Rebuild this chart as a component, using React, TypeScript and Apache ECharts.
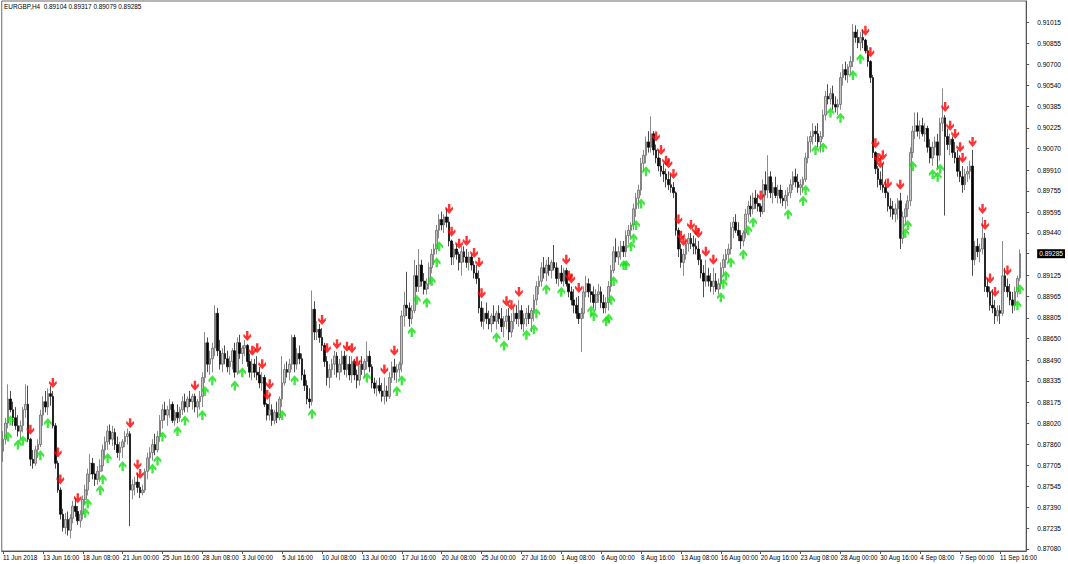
import React, { useEffect, useRef } from "react";
import * as echarts from "echarts";

// ---- header ----
const symbolTitle = "EURGBP,H4  0.89104 0.89317 0.89079 0.89285";
const currentPrice = 0.89285;

// ---- x tick labels (one every 16 H4 bars) ----
const xTickLabels = [
  "11 Jun 2018", "13 Jun 16:00", "18 Jun 08:00", "21 Jun 00:00", "25 Jun 16:00", "28 Jun 08:00",
  "3 Jul 00:00", "5 Jul 16:00", "10 Jul 08:00", "13 Jul 00:00", "17 Jul 16:00", "20 Jul 08:00",
  "25 Jul 00:00", "27 Jul 16:00", "1 Aug 08:00", "6 Aug 00:00", "8 Aug 16:00", "13 Aug 08:00",
  "16 Aug 00:00", "20 Aug 16:00", "23 Aug 08:00", "28 Aug 00:00", "30 Aug 16:00", "4 Sep 08:00",
  "7 Sep 00:00", "11 Sep 16:00",
];
const barsPerLabel = 16;

// ---- y tick labels ----
const yTicks = [
  0.8708, 0.87235, 0.8739, 0.87545, 0.87705, 0.8786, 0.8802, 0.88175, 0.88335, 0.8849,
  0.8865, 0.88805, 0.88965, 0.89125, 0.89285, 0.8944, 0.89595, 0.89755, 0.8991, 0.9007,
  0.90225, 0.90385, 0.9054, 0.907, 0.90855, 0.91015,
];
const yMin = 0.87065;
const yMax = 0.91172;

// ---- OHLC bars [open, high, low, close], one row per trading day ----
const junBars = [
  [0.8781,0.8796,0.8773,0.8790],[0.8790,0.8806,0.8786,0.8802],[0.8802,0.8831,0.8798,0.8820],[0.8820,0.8826,0.8810,0.8812],[0.8812,0.8818,0.8800,0.8806],[0.8806,0.8814,0.8797,0.8800],
  [0.8800,0.8808,0.8792,0.8796],[0.8796,0.8804,0.8790,0.8800],[0.8800,0.8814,0.8795,0.8812],[0.8812,0.8831,0.8806,0.8816],[0.8816,0.8830,0.8788,0.8790],[0.8790,0.8791,0.8770,0.8775],
  [0.8775,0.8782,0.8768,0.8772],[0.8772,0.8785,0.8770,0.8782],[0.8782,0.8790,0.8776,0.8786],[0.8786,0.8812,0.8784,0.8808],[0.8808,0.8822,0.8800,0.8818],[0.8818,0.8826,0.8810,0.8814],
  [0.8814,0.8828,0.8808,0.8824],[0.8824,0.8830,0.8815,0.8822],[0.8822,0.8826,0.8798,0.8800],[0.8800,0.8802,0.8768,0.8772],[0.8772,0.8774,0.8750,0.8752],[0.8752,0.8754,0.8730,0.8734],
  [0.8734,0.8738,0.8721,0.8724],[0.8724,0.8735,0.8719,0.8730],[0.8730,0.8736,0.8718,0.8722],[0.8722,0.8734,0.8716,0.8731],[0.8731,0.8744,0.8727,0.8740],[0.8740,0.8746,0.8732,0.8736],
  [0.8736,0.8740,0.8726,0.8729],[0.8729,0.8737,0.8724,0.8734],[0.8734,0.8748,0.8730,0.8745],[0.8745,0.8756,0.8741,0.8752],[0.8752,0.8768,0.8748,0.8764],[0.8764,0.8779,0.8758,0.8772],
  [0.8772,0.8776,0.8760,0.8764],[0.8764,0.8772,0.8755,0.8760],[0.8760,0.8770,0.8756,0.8766],[0.8766,0.8775,0.8758,0.8770],[0.8770,0.8786,0.8766,0.8782],[0.8782,0.8792,0.8776,0.8788],
  [0.8788,0.8800,0.8782,0.8796],[0.8796,0.8801,0.8786,0.8790],[0.8790,0.8800,0.8785,0.8795],[0.8795,0.8798,0.8782,0.8786],[0.8786,0.8792,0.8776,0.8780],[0.8780,0.8788,0.8774,0.8784],
  [0.8784,0.8790,0.8776,0.8788],[0.8788,0.8796,0.8784,0.8792],[0.8792,0.8798,0.8786,0.8794],[0.8794,0.8796,0.8725,0.8752],[0.8752,0.8760,0.8745,0.8756],[0.8756,0.8762,0.8748,0.8758],
  [0.8758,0.8765,0.8750,0.8754],[0.8754,0.8758,0.8746,0.8750],[0.8750,0.8756,0.8748,0.8752],[0.8752,0.8768,0.8750,0.8766],[0.8766,0.8780,0.8760,0.8776],[0.8776,0.8784,0.8768,0.8780],
  [0.8780,0.8790,0.8774,0.8786],[0.8786,0.8794,0.8778,0.8782],[0.8782,0.8796,0.8780,0.8792],[0.8792,0.8808,0.8788,0.8804],[0.8804,0.8816,0.8798,0.8812],[0.8812,0.8818,0.8804,0.8808],
  [0.8808,0.8815,0.8800,0.8812],[0.8812,0.8820,0.8806,0.8816],[0.8816,0.8818,0.8802,0.8804],[0.8804,0.8812,0.8800,0.8810],[0.8810,0.8816,0.8802,0.8806],[0.8806,0.8814,0.8803,0.8812],
  [0.8812,0.8822,0.8808,0.8818],[0.8818,0.8824,0.8810,0.8814],[0.8814,0.8822,0.8810,0.8820],[0.8820,0.8826,0.8814,0.8818],[0.8818,0.8824,0.8812,0.8822],[0.8822,0.8824,0.8810,0.8814],
  [0.8814,0.8820,0.8806,0.8818],[0.8818,0.8826,0.8812,0.8822],[0.8822,0.8840,0.8814,0.8836],[0.8836,0.8870,0.8832,0.8862],[0.8862,0.8866,0.8840,0.8846],[0.8846,0.8856,0.8838,0.8850],
  [0.8850,0.8862,0.8840,0.8858],[0.8858,0.8890,0.8852,0.8884],[0.8884,0.8888,0.8852,0.8856],[0.8856,0.8864,0.8842,0.8846],[0.8846,0.8858,0.8840,0.8854],[0.8854,0.8860,0.8846,0.8850],
];
const julBars = [
  [0.8850,0.8856,0.8840,0.8844],[0.8844,0.8852,0.8838,0.8848],[0.8848,0.8858,0.8842,0.8856],[0.8856,0.8862,0.8836,0.8840],[0.8840,0.8866,0.8838,0.8862],[0.8862,0.8868,0.8850,0.8854],
  [0.8854,0.8860,0.8846,0.8858],[0.8858,0.8864,0.8852,0.8860],[0.8860,0.8861,0.8844,0.8848],[0.8848,0.8854,0.8836,0.8840],[0.8840,0.8850,0.8834,0.8846],[0.8846,0.8850,0.8836,0.8840],
  [0.8840,0.8852,0.8834,0.8838],[0.8838,0.8844,0.8828,0.8832],[0.8832,0.8840,0.8826,0.8836],[0.8836,0.8838,0.8814,0.8816],[0.8816,0.8817,0.8804,0.8808],[0.8808,0.8825,0.8804,0.8812],
  [0.8812,0.8816,0.8800,0.8804],[0.8804,0.8812,0.8801,0.8810],[0.8810,0.8818,0.8802,0.8806],[0.8806,0.8822,0.8804,0.8820],[0.8820,0.8852,0.8814,0.8832],[0.8832,0.8846,0.8830,0.8842],
  [0.8842,0.8848,0.8836,0.8840],[0.8840,0.8850,0.8834,0.8846],[0.8846,0.8868,0.8842,0.8866],[0.8866,0.8868,0.8840,0.8846],[0.8846,0.8858,0.8842,0.8854],[0.8854,0.8860,0.8846,0.8850],
  [0.8850,0.8854,0.8834,0.8838],[0.8838,0.8842,0.8826,0.8830],[0.8830,0.8834,0.8816,0.8820],[0.8820,0.8828,0.8813,0.8818],[0.8818,0.8901,0.8815,0.8887],[0.8887,0.8893,0.8864,0.8870],
  [0.8870,0.8878,0.8864,0.8872],[0.8872,0.8876,0.8862,0.8866],[0.8866,0.8873,0.8856,0.8860],[0.8860,0.8862,0.8844,0.8848],[0.8848,0.8852,0.8830,0.8836],[0.8836,0.8846,0.8828,0.8842],
  [0.8842,0.8850,0.8836,0.8846],[0.8846,0.8856,0.8838,0.8852],[0.8852,0.8855,0.8836,0.8840],[0.8840,0.8850,0.8834,0.8846],[0.8846,0.8856,0.8840,0.8852],[0.8852,0.8856,0.8838,0.8842],
  [0.8842,0.8853,0.8836,0.8846],[0.8846,0.8852,0.8834,0.8838],[0.8838,0.8852,0.8832,0.8848],[0.8848,0.8850,0.8834,0.8838],[0.8838,0.8842,0.8828,0.8834],[0.8834,0.8848,0.8830,0.8846],
  [0.8846,0.8852,0.8838,0.8842],[0.8842,0.8850,0.8836,0.8848],[0.8848,0.8863,0.8842,0.8852],[0.8852,0.8856,0.8840,0.8844],[0.8844,0.8846,0.8828,0.8832],[0.8832,0.8836,0.8824,0.8828],
  [0.8828,0.8834,0.8822,0.8830],[0.8830,0.8836,0.8824,0.8826],[0.8826,0.8832,0.8818,0.8822],[0.8822,0.8836,0.8816,0.8826],[0.8826,0.8830,0.8818,0.8822],[0.8822,0.8840,0.8820,0.8836],
  [0.8836,0.8848,0.8832,0.8844],[0.8844,0.8850,0.8834,0.8840],[0.8840,0.8846,0.8832,0.8842],[0.8842,0.8848,0.8836,0.8846],[0.8846,0.8886,0.8840,0.8882],[0.8882,0.8900,0.8874,0.8890],
  [0.8890,0.8915,0.8882,0.8888],[0.8888,0.8892,0.8874,0.8880],[0.8880,0.8890,0.8876,0.8886],[0.8886,0.8924,0.8884,0.8912],[0.8912,0.8920,0.8900,0.8904],[0.8904,0.8932,0.8900,0.8920],
  [0.8920,0.8924,0.8904,0.8908],[0.8908,0.8914,0.8898,0.8902],[0.8902,0.8910,0.8898,0.8906],[0.8906,0.8922,0.8902,0.8918],[0.8918,0.8932,0.8914,0.8928],[0.8928,0.8936,0.8920,0.8932],
  [0.8932,0.8950,0.8928,0.8946],[0.8946,0.8958,0.8940,0.8954],[0.8954,0.8960,0.8946,0.8950],[0.8950,0.8958,0.8944,0.8956],[0.8956,0.8962,0.8948,0.8952],[0.8952,0.8956,0.8934,0.8938],
  [0.8938,0.8939,0.8920,0.8926],[0.8926,0.8936,0.8920,0.8932],[0.8932,0.8936,0.8924,0.8928],[0.8928,0.8930,0.8916,0.8922],[0.8922,0.8934,0.8912,0.8930],[0.8930,0.8934,0.8922,0.8926],
  [0.8926,0.8932,0.8918,0.8922],[0.8922,0.8930,0.8916,0.8926],[0.8926,0.8928,0.8916,0.8920],[0.8920,0.8923,0.8910,0.8914],[0.8914,0.8920,0.8906,0.8910],[0.8910,0.8916,0.8884,0.8888],
  [0.8888,0.8893,0.8874,0.8878],[0.8878,0.8888,0.8872,0.8884],[0.8884,0.8892,0.8876,0.8880],[0.8880,0.8886,0.8872,0.8876],[0.8876,0.8884,0.8870,0.8882],[0.8882,0.8890,0.8876,0.8878],
  [0.8878,0.8886,0.8872,0.8884],[0.8884,0.8890,0.8876,0.8880],[0.8880,0.8888,0.8870,0.8874],[0.8874,0.8882,0.8866,0.8878],[0.8878,0.8887,0.8872,0.8882],[0.8882,0.8888,0.8864,0.8870],
  [0.8870,0.8884,0.8866,0.8878],[0.8878,0.8888,0.8872,0.8884],[0.8884,0.8890,0.8876,0.8880],[0.8880,0.8894,0.8874,0.8886],[0.8886,0.8890,0.8872,0.8876],[0.8876,0.8884,0.8870,0.8880],
  [0.8880,0.8888,0.8874,0.8884],[0.8884,0.8890,0.8876,0.8880],[0.8880,0.8888,0.8870,0.8886],[0.8886,0.8898,0.8878,0.8894],[0.8894,0.8908,0.8890,0.8904],[0.8904,0.8912,0.8898,0.8908],
  [0.8908,0.8922,0.8904,0.8918],[0.8918,0.8926,0.8910,0.8914],[0.8914,0.8924,0.8908,0.8920],[0.8920,0.8926,0.8912,0.8916],[0.8916,0.8924,0.8910,0.8922],[0.8922,0.8935,0.8916,0.8918],
];
const augBars = [
  [0.8918,0.8922,0.8906,0.8910],[0.8910,0.8918,0.8904,0.8914],[0.8914,0.8920,0.8906,0.8908],[0.8908,0.8918,0.8904,0.8916],[0.8916,0.8918,0.8904,0.8906],[0.8906,0.8906,0.8896,0.8900],
  [0.8900,0.8904,0.8890,0.8894],[0.8894,0.8902,0.8884,0.8890],[0.8890,0.8896,0.8880,0.8884],[0.8884,0.8897,0.8876,0.8880],[0.8880,0.8888,0.8855,0.8884],[0.8884,0.8904,0.8880,0.8900],
  [0.8900,0.8912,0.8896,0.8906],[0.8906,0.8910,0.8896,0.8900],[0.8900,0.8906,0.8892,0.8898],[0.8898,0.8904,0.8888,0.8892],[0.8892,0.8902,0.8886,0.8898],[0.8898,0.8906,0.8892,0.8900],
  [0.8900,0.8904,0.8888,0.8892],[0.8892,0.8898,0.8884,0.8888],[0.8888,0.8896,0.8884,0.8892],[0.8892,0.8908,0.8886,0.8904],[0.8904,0.8920,0.8900,0.8916],[0.8916,0.8934,0.8914,0.8930],
  [0.8930,0.8940,0.8922,0.8926],[0.8926,0.8934,0.8920,0.8930],[0.8930,0.8938,0.8924,0.8934],[0.8934,0.8938,0.8926,0.8930],[0.8930,0.8946,0.8926,0.8942],[0.8942,0.8950,0.8936,0.8946],
  [0.8946,0.8952,0.8940,0.8950],[0.8950,0.8966,0.8946,0.8962],[0.8962,0.8974,0.8956,0.8970],[0.8970,0.8980,0.8962,0.8976],[0.8976,0.9000,0.8972,0.8996],[0.8996,0.9006,0.8990,0.9002],
  [0.9002,0.9016,0.8996,0.9012],[0.9012,0.9020,0.9004,0.9008],[0.9008,0.9031,0.9004,0.9018],[0.9018,0.9020,0.9002,0.9006],[0.9006,0.9010,0.8996,0.9000],[0.9000,0.9006,0.8990,0.8994],
  [0.8994,0.9000,0.8986,0.8990],[0.8990,0.8996,0.8982,0.8988],[0.8988,0.8992,0.8978,0.8984],[0.8984,0.8990,0.8976,0.8980],[0.8980,0.8988,0.8974,0.8978],[0.8978,0.8982,0.8970,0.8974],
  [0.8974,0.8975,0.8942,0.8946],[0.8946,0.8948,0.8926,0.8932],[0.8932,0.8936,0.8918,0.8922],[0.8922,0.8932,0.8912,0.8928],[0.8928,0.8940,0.8924,0.8936],[0.8936,0.8944,0.8930,0.8940],
  [0.8940,0.8944,0.8932,0.8936],[0.8936,0.8942,0.8928,0.8934],[0.8934,0.8940,0.8928,0.8932],[0.8932,0.8938,0.8920,0.8924],[0.8924,0.8928,0.8910,0.8914],[0.8914,0.8920,0.8896,0.8908],
  [0.8908,0.8924,0.8904,0.8912],[0.8912,0.8918,0.8904,0.8908],[0.8908,0.8914,0.8900,0.8904],[0.8904,0.8918,0.8898,0.8908],[0.8908,0.8914,0.8900,0.8902],[0.8902,0.8910,0.8898,0.8906],
  [0.8906,0.8922,0.8902,0.8918],[0.8918,0.8928,0.8912,0.8924],[0.8924,0.8932,0.8918,0.8928],[0.8928,0.8936,0.8922,0.8932],[0.8932,0.8952,0.8928,0.8948],[0.8948,0.8956,0.8940,0.8952],
  [0.8952,0.8958,0.8944,0.8946],[0.8946,0.8952,0.8938,0.8942],[0.8942,0.8946,0.8932,0.8938],[0.8938,0.8946,0.8934,0.8944],[0.8944,0.8962,0.8940,0.8958],[0.8958,0.8968,0.8952,0.8964],
  [0.8964,0.8972,0.8956,0.8962],[0.8962,0.8974,0.8958,0.8970],[0.8970,0.8976,0.8962,0.8966],[0.8966,0.8972,0.8960,0.8964],[0.8964,0.8966,0.8956,0.8960],[0.8960,0.8984,0.8958,0.8980],
  [0.8980,0.8990,0.8972,0.8976],[0.8976,0.9002,0.8970,0.8986],[0.8986,0.8990,0.8970,0.8974],[0.8974,0.8982,0.8966,0.8978],[0.8978,0.8986,0.8970,0.8972],[0.8972,0.8980,0.8966,0.8976],
  [0.8976,0.8980,0.8966,0.8970],[0.8970,0.8976,0.8964,0.8968],[0.8968,0.8976,0.8962,0.8972],[0.8972,0.8978,0.8964,0.8974],[0.8974,0.8984,0.8970,0.8980],[0.8980,0.8990,0.8976,0.8986],
  [0.8986,0.8992,0.8978,0.8982],[0.8982,0.8988,0.8974,0.8978],[0.8978,0.8984,0.8972,0.8980],[0.8980,0.8986,0.8974,0.8984],[0.8984,0.9004,0.8982,0.9000],[0.9000,0.9016,0.8996,0.9012],
  [0.9012,0.9020,0.9004,0.9016],[0.9016,0.9026,0.9010,0.9020],[0.9020,0.9024,0.9012,0.9018],[0.9018,0.9026,0.9008,0.9012],[0.9012,0.9020,0.9004,0.9016],[0.9016,0.9036,0.9014,0.9032],
  [0.9032,0.9050,0.9028,0.9046],[0.9046,0.9055,0.9040,0.9044],[0.9044,0.9052,0.9040,0.9048],[0.9048,0.9054,0.9036,0.9040],[0.9040,0.9046,0.9034,0.9038],[0.9038,0.9044,0.9032,0.9040],
  [0.9040,0.9064,0.9036,0.9060],[0.9060,0.9070,0.9054,0.9066],[0.9066,0.9072,0.9058,0.9062],[0.9062,0.9070,0.9056,0.9068],[0.9068,0.9076,0.9062,0.9072],[0.9072,0.9100,0.9068,0.9094],
  [0.9094,0.9099,0.9086,0.9090],[0.9090,0.9096,0.9082,0.9086],[0.9086,0.9094,0.9080,0.9090],[0.9090,0.9096,0.9082,0.9088],[0.9088,0.9089,0.9078,0.9080],[0.9080,0.9084,0.9068,0.9072],
  [0.9072,0.9073,0.9056,0.9060],[0.9060,0.9062,0.9000,0.9004],[0.9004,0.9005,0.8988,0.8992],[0.8992,0.8994,0.8978,0.8984],[0.8984,0.8990,0.8976,0.8980],[0.8980,0.8996,0.8974,0.8978],
  [0.8978,0.8984,0.8970,0.8974],[0.8974,0.8975,0.8960,0.8964],[0.8964,0.8970,0.8956,0.8962],[0.8962,0.8968,0.8954,0.8958],[0.8958,0.8966,0.8952,0.8962],[0.8962,0.8970,0.8954,0.8968],
];
const sepBars = [
  [0.8968,0.8974,0.8932,0.8940],[0.8940,0.8960,0.8936,0.8956],[0.8956,0.8966,0.8950,0.8962],[0.8962,0.8972,0.8956,0.8968],[0.8968,0.9008,0.8964,0.9004],[0.9004,0.9024,0.9000,0.9020],
  [0.9020,0.9034,0.9014,0.9024],[0.9024,0.9034,0.9016,0.9020],[0.9020,0.9028,0.9014,0.9024],[0.9024,0.9030,0.9016,0.9018],[0.9018,0.9026,0.9012,0.9022],[0.9022,0.9024,0.9004,0.9008],
  [0.9008,0.9014,0.8996,0.9000],[0.9000,0.9012,0.8994,0.9008],[0.9008,0.9016,0.9002,0.9012],[0.9012,0.9018,0.8992,0.9002],[0.9002,0.9030,0.8998,0.9026],[0.9026,0.9052,0.9020,0.9030],
  [0.9030,0.9032,0.8957,0.9016],[0.9016,0.9022,0.9006,0.9010],[0.9010,0.9018,0.9002,0.9014],[0.9014,0.9016,0.9000,0.9004],[0.9004,0.9012,0.8996,0.9000],[0.9000,0.9006,0.8986,0.8990],
  [0.8990,0.9002,0.8982,0.8986],[0.8986,0.8994,0.8974,0.8980],[0.8980,0.8992,0.8976,0.8988],[0.8988,0.8994,0.8982,0.8990],[0.8990,0.8998,0.8984,0.8994],[0.8994,0.9006,0.8912,0.8924],
  [0.8924,0.8938,0.8920,0.8934],[0.8934,0.8940,0.8926,0.8930],[0.8930,0.8936,0.8922,0.8932],[0.8932,0.8956,0.8928,0.8940],[0.8940,0.8944,0.8900,0.8904],[0.8904,0.8910,0.8896,0.8900],
  [0.8900,0.8904,0.8886,0.8890],[0.8890,0.8902,0.8884,0.8888],[0.8888,0.8894,0.8876,0.8882],[0.8882,0.8890,0.8878,0.8886],[0.8886,0.8890,0.8876,0.8884],[0.8884,0.8938,0.8882,0.8912],
  [0.8912,0.8918,0.8900,0.8904],[0.8904,0.8910,0.8896,0.8900],[0.8900,0.8906,0.8890,0.8894],[0.8894,0.8900,0.8884,0.8890],[0.8890,0.8904,0.8886,0.8900],[0.8900,0.8912,0.8896,0.8910],
  [0.89104,0.89317,0.89079,0.89285],
];

// ---- indicator arrows (bar indices) ----
const sellArrowBars = [
  11, 20, 22, 23, 30, 51, 54, 55, 77, 98, 100, 102, 104, 106, 107, 128, 130, 134, 138, 140, 142, 153, 157,
  179, 180, 183, 186, 189, 191, 192, 202, 204, 207, 226, 227, 228, 231, 262, 264, 266, 267, 269, 271, 272,
  273, 276, 278, 279, 282, 285, 304, 346, 348, 350, 351, 352, 353, 355, 360, 378, 380, 382, 384, 385, 389,
  393, 394, 396, 398, 403,
];
const buyArrowBars = [
  2, 3, 6, 8, 15, 18, 33, 34, 39, 40, 42, 48, 60, 62, 64, 70, 73, 80, 81, 84, 93, 96, 112, 117, 124, 146,
  158, 160, 164, 166, 170, 172, 174, 175, 198, 201, 210, 213, 214, 218, 224, 236, 237, 242, 243, 244, 245,
  249, 250, 252, 253, 254, 256, 258, 288, 289, 290, 292, 297, 299, 301, 315, 321, 322, 326, 329, 332, 336,
  341, 344, 362, 363, 365, 373, 375, 376, 407, 408,
];

const DOWN_ARROW = "path://M2.8,0 L5.2,0 L5.2,4.6 L7.6,2.4 L8,4.8 L4,8.8 L0,4.8 L0.4,2.4 L2.8,4.6 Z";
const UP_ARROW = "path://M2.8,8.8 L5.2,8.8 L5.2,4.2 L7.6,6.4 L8,4 L4,0 L0,4 L0.4,6.4 L2.8,4.2 Z";
const FONT = "Liberation Sans, Arial, sans-serif";

export default function App() {
  const ref = useRef<HTMLDivElement>(null);

  useEffect(() => {
    if (!ref.current) return;
    const chart = echarts.init(ref.current, undefined, { renderer: "svg" });

    const bars = [...junBars, ...julBars, ...augBars, ...sepBars];
    const totalSlots = bars.length + 2;
    const categories = Array.from({ length: totalSlots }, (_, i) => String(i));
    const candleData = bars.map((b) => [b[0], b[3], b[2], b[1]]);
    const sellData = sellArrowBars.filter((i) => i < bars.length).map((i) => [i, bars[i][1]]);
    const buyData = buyArrowBars.filter((i) => i < bars.length).map((i) => [i, bars[i][2]]);

    chart.setOption({
      animation: false,
      backgroundColor: "#ffffff",
      grid: {
        left: 1,
        right: 39.5,
        top: 1,
        bottom: 13,
        show: true,
        borderColor: "#6a6a6a",
        borderWidth: 1,
        backgroundColor: "#ffffff",
      },
      xAxis: {
        type: "category",
        data: categories,
        boundaryGap: true,
        axisLine: { show: true, lineStyle: { color: "#555", width: 1 } },
        axisTick: {
          show: true,
          alignWithLabel: true,
          interval: barsPerLabel - 1,
          length: 3,
          lineStyle: { color: "#555" },
        },
        axisLabel: {
          interval: barsPerLabel - 1,
          align: "left",
          margin: 3,
          fontSize: 6.3,
          fontFamily: FONT,
          color: "#000",
          formatter: (_v: string, idx: number) =>
            idx % barsPerLabel === 0 ? xTickLabels[idx / barsPerLabel] ?? "" : "",
        },
        splitLine: { show: false },
      },
      yAxis: {
        type: "value",
        position: "right",
        min: yMin,
        max: yMax,
        axisLine: { show: true, lineStyle: { color: "#555", width: 1 } },
        axisTick: {
          show: true,
          length: 3,
          customValues: yTicks,
          lineStyle: { color: "#555" },
        },
        axisLabel: {
          customValues: yTicks,
          margin: 11,
          fontSize: 6.6,
          fontFamily: FONT,
          color: "#000",
          formatter: (v: number) =>
            Math.abs(v - currentPrice) < 1e-7 ? "{cur|" + v.toFixed(5) + "}" : v.toFixed(5),
          rich: {
            cur: {
              backgroundColor: "#000",
              color: "#fff",
              fontSize: 6.6,
              fontFamily: FONT,
              padding: [1, 2, 1, 2],
            },
          },
        },
        splitLine: { show: false },
      },
      graphic: [
        {
          type: "text",
          left: 4,
          top: 3,
          style: { text: symbolTitle, fontSize: 6.4, fontFamily: FONT, fill: "#000" },
          z: 10,
        },
      ],
      series: [
        {
          type: "candlestick",
          data: candleData,
          barWidth: 2.1,
          itemStyle: {
            color: "#c4c4c4",
            color0: "#000000",
            borderColor: "#5a5a5a",
            borderColor0: "#000000",
            borderWidth: 0.7,
          },
          z: 2,
        },
        {
          type: "scatter",
          data: sellData,
          symbol: DOWN_ARROW,
          symbolSize: [8, 10],
          symbolOffset: [0, -8],
          itemStyle: { color: "#ff0000" },
          z: 5,
        },
        {
          type: "scatter",
          data: buyData,
          symbol: UP_ARROW,
          symbolSize: [8, 10],
          symbolOffset: [0, 8],
          itemStyle: { color: "#12e012" },
          z: 5,
        },
      ],
    });

    return () => chart.dispose();
  }, []);

  return (
    <div
      ref={ref}
      style={{ position: "fixed", left: 0, top: 0, width: 1068, height: 564, background: "#fff" }}
    />
  );
}
